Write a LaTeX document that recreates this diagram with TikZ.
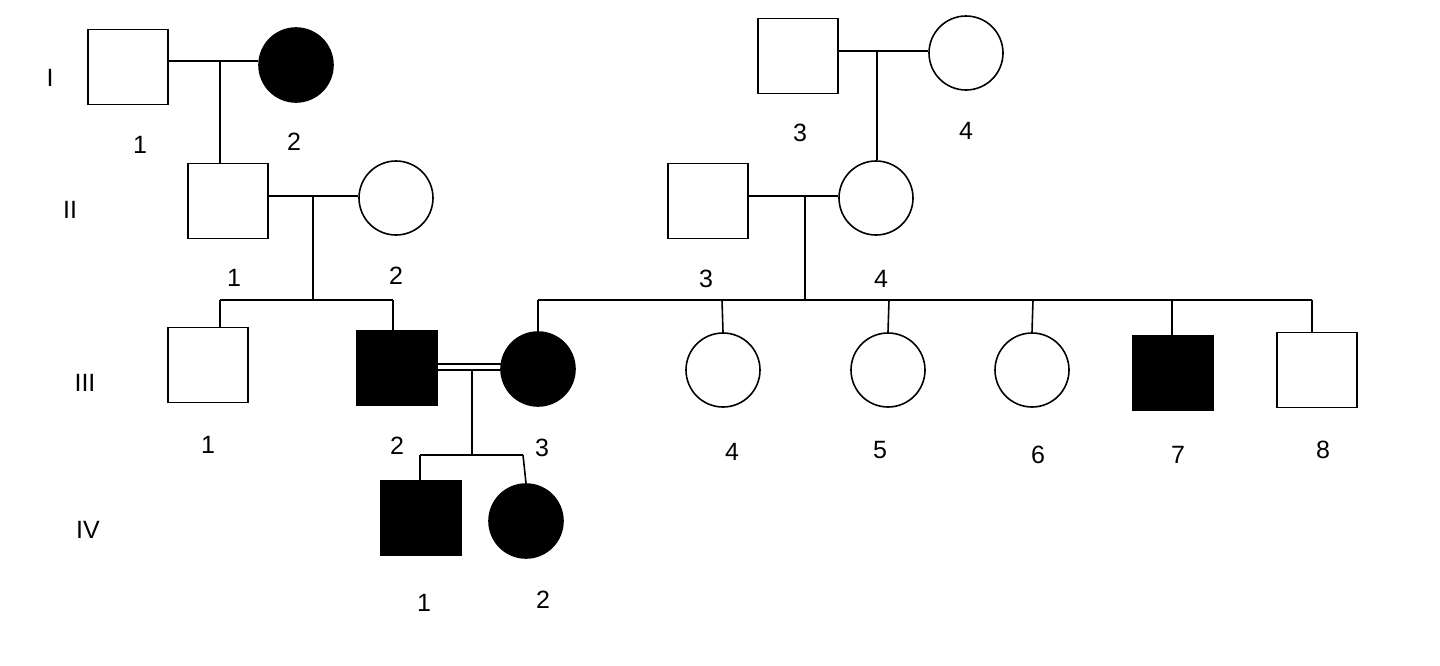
\documentclass[tikz,border=0pt]{standalone}
\usepackage{fontspec}
\setmainfont{Liberation Sans}
\begin{document}
\begin{tikzpicture}[x=1pt,y=-1pt,line width=1.6pt,
 sq/.style={draw,minimum width=80pt,minimum height=75pt,inner sep=0pt},
 ci/.style={draw,circle,minimum size=74pt,inner sep=0pt},
 aff/.style={fill=black},
 lab/.style={font=\fontsize{25}{28}\selectfont}]
\useasboundingbox (0,0) rectangle (1440,665);
% generation I
\node[sq] (i1) at (128,67) {};
\node[ci,aff] (i2) at (296,65) {};
\node[sq] (i3) at (798,56) {};
\node[ci] (i4) at (966,53) {};
% generation II
\node[sq] (ii1) at (228,201) {};
\node[ci] (ii2) at (396,198) {};
\node[sq] (ii3) at (708,201) {};
\node[ci] (ii4) at (876,198) {};
% generation III
\node[sq] (iii1) at (208,365) {};
\node[sq,aff] (iii2) at (397,368) {};
\node[ci,aff] (iii3) at (538,369) {};
\node[ci] (iii4) at (723,370) {};
\node[ci] (iii5) at (888,370) {};
\node[ci] (iii6) at (1032,370) {};
\node[sq,aff] (iii7) at (1173,373) {};
\node[sq] (iii8) at (1317,370) {};
% generation IV
\node[sq,aff] (iv1) at (421,518) {};
\node[ci,aff] (iv2) at (526,521) {};
% marriages
\draw (i1.east |- 0,61) -- (i2.west |- 0,61);
\draw (220,61) -- (220,0 |- ii1.north);
\draw (i3.east |- 0,51) -- (i4.west |- 0,51);
\draw (877,51) -- (877,0 |- ii4.north);
\draw (ii1.east |- 0,196) -- (ii2.west |- 0,196);
\draw (313,196) -- (313,300);
\draw (220,300) -- (393,300);
\draw (220,300) -- (220,0 |- iii1.north);
\draw (393,300) -- (393,0 |- iii2.north);
\draw (ii3.east |- 0,196) -- (ii4.west |- 0,196);
\draw (805,196) -- (805,300);
\draw (538,300) -- (1312,300);
\draw (538,300) -- (iii3.north);
\draw (722,300) -- (iii4.north);
\draw (889,300) -- (iii5.north);
\draw (1033,300) -- (iii6.north);
\draw (1172,300) -- (1172,0 |- iii7.north);
\draw (1312,300) -- (1312,0 |- iii8.north);
\draw (iii2.east |- 0,364) -- (504,364);
\draw (iii2.east |- 0,370) -- (502,370);
\draw (472,370) -- (472,455);
\draw (420,455) -- (523,455);
\draw (420,455) -- (420,0 |- iv1.north);
\draw (523,455) -- (iv2.north);
% labels
\foreach \t/\x/\y in {I/50/78,II/70/210,III/85/383,IV/88/530,
 1/140/145,2/294/142,3/800/133,4/966/131,
 1/234/278,2/396/276,3/706/279,4/881/279,
 1/208/445,2/397/446,3/542/448,4/732/452,5/880/450,6/1038/455,7/1178/455,8/1323/450,
 1/424/603,2/543/600}
 \node[lab] (l\x) at (\x,\y) {\t};
\end{tikzpicture}
\end{document}
